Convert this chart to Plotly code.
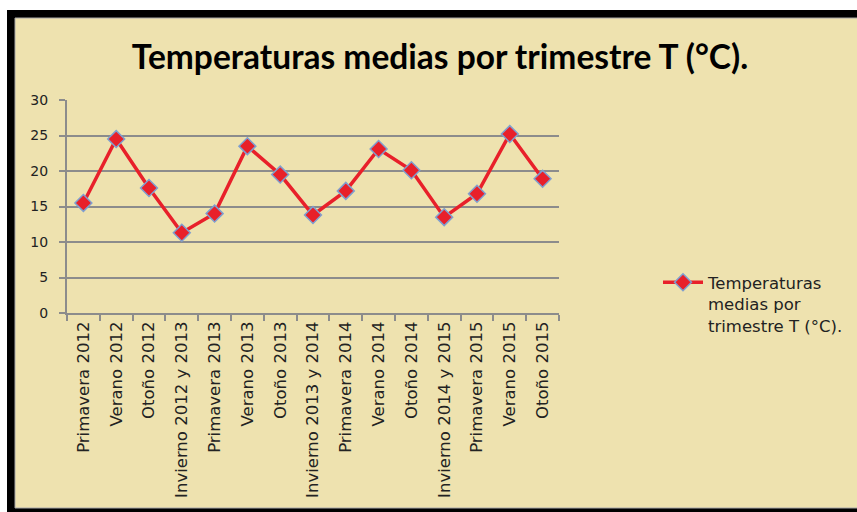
import plotly.graph_objects as go

categorias = ["Primavera 2012", "Verano 2012", "Otoño 2012", "Invierno 2012 y 2013",
              "Primavera 2013", "Verano 2013", "Otoño 2013", "Invierno 2013 y 2014",
              "Primavera 2014", "Verano 2014", "Otoño 2014", "Invierno 2014 y 2015",
              "Primavera 2015", "Verano 2015", "Otoño 2015"]
temperaturas = [15.5, 24.5, 17.6, 11.3, 14.0, 23.5, 19.5, 13.8,
                17.2, 23.1, 20.1, 13.5, 16.8, 25.2, 18.9]
y_ticks = [0, 5, 10, 15, 20, 25, 30]

W, H = 857, 512
L, R, T, B = 67, 559, 100, 313
BEIGE = "#EEE2AF"

def px(x):  # page x -> paper
    return (x - L) / (R - L)

def py(y):  # page y -> paper
    return (B - y) / (B - T)

fig = go.Figure()
fig.add_trace(go.Scatter(
    x=categorias, y=temperaturas, mode="lines+markers",
    name="Temperaturas<br>medias por<br>trimestre T (°C).",
    line=dict(color="#E8202A", width=3.5),
    marker=dict(symbol="diamond", size=13, color="#E8202A",
                line=dict(color="#7F9FD0", width=1.5)),
))

fig.update_layout(
    width=W, height=H,
    margin=dict(l=L, r=W - R, t=T, b=H - B, autoexpand=False),
    paper_bgcolor="white",
    plot_bgcolor="rgba(0,0,0,0)",
    title=dict(text="<b>Temperaturas medias por trimestre T (°C).</b>",
               x=440 / W, xanchor="center", y=1 - 57 / H, yanchor="middle",
               font=dict(family="Lato", size=33.5, color="black")),
    showlegend=True,
    legend=dict(xref="container", yref="container",
                x=658 / W, y=1 - 265 / H, xanchor="left", yanchor="top",
                bgcolor="rgba(0,0,0,0)", valign="top",
                font=dict(family="DejaVu Sans", size=16.5, color="#222222"),
                itemwidth=40),
    shapes=[
        dict(type="rect", xref="paper", yref="paper", layer="below",
             x0=px(7), x1=px(880), y0=py(10), y1=py(540),
             fillcolor="black", line=dict(width=0)),
        dict(type="rect", xref="paper", yref="paper", layer="below",
             x0=px(15), x1=px(880), y0=py(18), y1=py(508),
             fillcolor=BEIGE, line=dict(color="#A8A8A8", width=1)),
    ],
)

fig.update_xaxes(
    type="category", range=[-0.5, len(categorias) - 0.5],
    showgrid=False, showline=True, linecolor="#8C8C8C", linewidth=2,
    ticks="outside", tickson="boundaries", ticklen=6, tickwidth=1.5, tickcolor="#8C8C8C",
    tickangle=-90,
    tickfont=dict(family="DejaVu Sans", size=16.5, color="#222222"),
)
fig.update_yaxes(
    range=[0, 30], tickvals=y_ticks,
    showgrid=True, gridcolor="#8C8C8C", gridwidth=1.5,
    showline=True, linecolor="#8C8C8C", linewidth=2,
    ticks="outside", ticklen=6, tickwidth=1.5, tickcolor="#8C8C8C",
    zeroline=False, ticklabelstandoff=8,
    tickfont=dict(family="DejaVu Sans", size=14, color="#222222"),
)

fig.write_html("out.html", config={"displayModeBar": False},
               post_script="document.body.style.margin='0';document.body.style.overflow='hidden';")
